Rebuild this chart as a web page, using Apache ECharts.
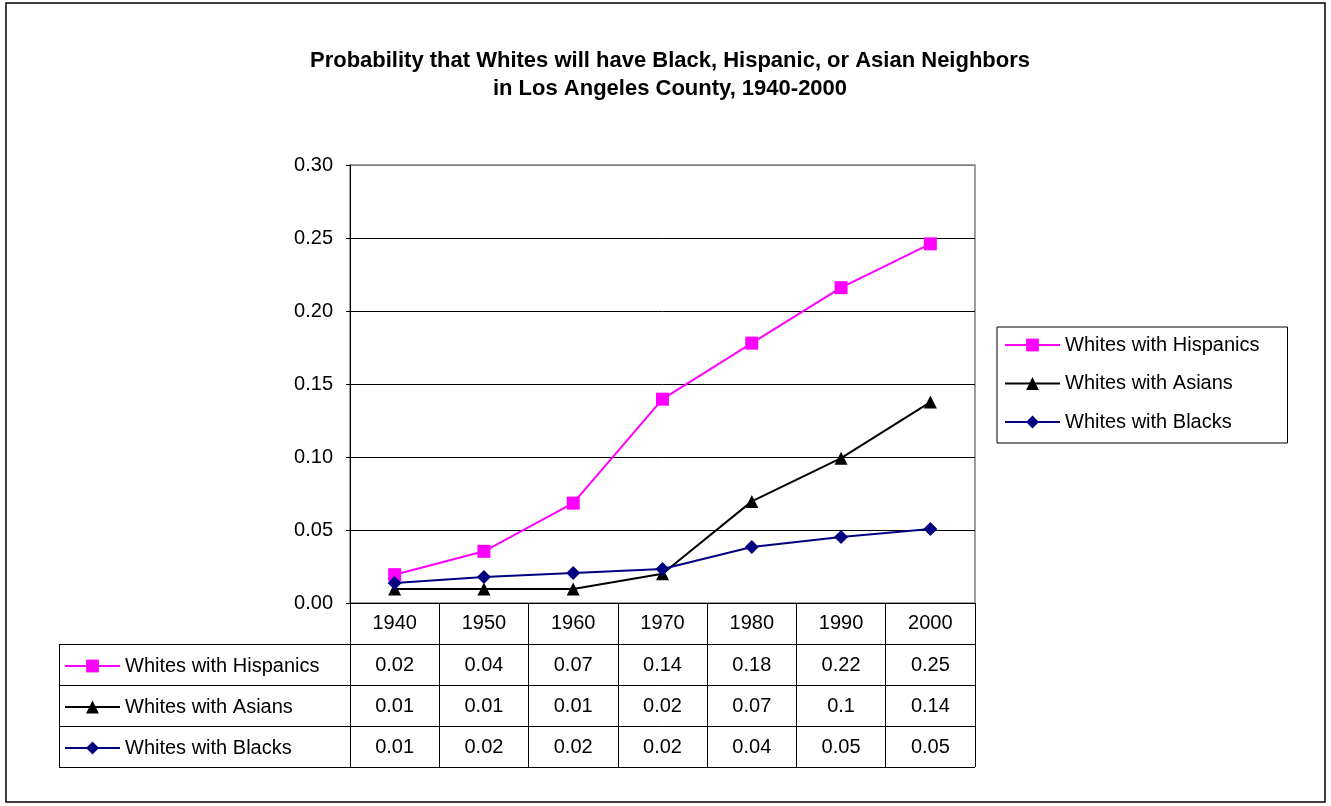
<!DOCTYPE html>
<html>
<head>
<meta charset="utf-8">
<script src="https://cdn.jsdelivr.net/npm/echarts@6/dist/echarts.min.js"></script>
<style>
html, body { margin: 0; padding: 0; background: #fff; }
#main { width: 1331px; height: 806px; }
</style>
</head>
<body>
<div id="main"></div>
<script>
var chartDom = document.getElementById('main');
var myChart = echarts.init(chartDom);

// data
const years = ['1940', '1950', '1960', '1970', '1980', '1990', '2000'];
const hispanics = [0.0194, 0.0354, 0.0684, 0.1396, 0.178, 0.216, 0.246];
const asians = [0.0096, 0.0096, 0.0096, 0.020, 0.0696, 0.0992, 0.1376];
const blacks = [0.0137, 0.0178, 0.0205, 0.0233, 0.0383, 0.0452, 0.0507];
const names = ['Whites with Hispanics', 'Whites with Asians', 'Whites with Blacks'];
const yMin = 0, yMax = 0.30, yStep = 0.05;

const font = 'Liberation Sans, Arial, sans-serif';
const rowH = 41;
const plotL = 350, plotR = 975, plotT = 165, plotB = 603;

// data table text, Excel "General" style of the rounded value
const fmt = (v) => String(Number(v.toFixed(2)));
const tableRows = [hispanics, asians, blacks].map(arr => arr.map(fmt));

const seriesDefs = [
    { name: names[0], data: hispanics, color: '#ff00ff', symbol: 'rect', size: 13 },
    { name: names[1], data: asians, color: '#000000', symbol: 'triangle', size: 13 },
    { name: names[2], data: blacks, color: '#000080', symbol: 'diamond', size: 14 }
];

const series = seriesDefs.map(s => ({
    name: s.name,
    type: 'line',
    xAxisIndex: 0,
    data: s.data,
    symbol: s.symbol,
    symbolSize: s.size,
    showAllSymbol: true,
    animation: false,
    itemStyle: { color: s.color },
    lineStyle: { color: s.color, width: 2 },
    emphasis: { disabled: true }
}));

// extra x axes make the rows of the data table
const tableAxes = tableRows.map((row, r) => ({
    type: 'category',
    gridIndex: 0,
    position: 'bottom',
    offset: rowH * (r + 1),
    data: years,
    axisLine: { show: true, lineStyle: { color: '#000', width: 1 } },
    axisTick: { show: true, length: rowH, interval: 0, lineStyle: { color: '#000' } },
    axisLabel: {
        interval: 0, margin: 11, color: '#000', fontSize: 20, fontFamily: font,
        formatter: (v, i) => row[i]
    },
    splitLine: { show: false }
}));

const legendText = { color: '#000', fontSize: 20, fontFamily: font, lineHeight: 24 };

var option = {
    backgroundColor: '#fff',
    animation: false,
    title: {
        text: 'Probability that Whites will have Black, Hispanic, or Asian Neighbors\nin Los Angeles County, 1940-2000',
        left: 665,
        top: 42,
        textAlign: 'center',
        textStyle: { fontSize: 22, fontWeight: 'bold', fontFamily: font, color: '#000', lineHeight: 28 }
    },
    legend: [
        {
            data: names,
            orient: 'vertical',
            left: 997,
            top: 327,
            itemWidth: 55,
            itemHeight: 16,
            itemGap: 14.5,
            padding: [6, 28, 9, 7],
            borderColor: '#000',
            borderWidth: 1,
            selectedMode: false,
            textStyle: legendText
        },
        {
            data: names,
            orient: 'vertical',
            left: 59,
            top: plotB + rowH,
            itemWidth: 55,
            itemHeight: 16,
            itemGap: rowH - 24,
            padding: [10, 5, 9, 5],
            selectedMode: false,
            textStyle: legendText
        }
    ],
    grid: {
        left: plotL,
        top: plotT,
        width: plotR - plotL,
        height: plotB - plotT,
        show: true,
        backgroundColor: '#fff',
        borderColor: '#808080',
        borderWidth: 1.5
    },
    xAxis: [
        {
            type: 'category',
            gridIndex: 0,
            position: 'bottom',
            data: years,
            boundaryGap: true,
            axisLine: { show: true, lineStyle: { color: '#000', width: 1 } },
            axisTick: { show: true, length: rowH, interval: 0, lineStyle: { color: '#000' } },
            axisLabel: { interval: 0, margin: 10, color: '#000', fontSize: 20, fontFamily: font },
            splitLine: { show: false }
        }
    ].concat(tableAxes),
    yAxis: {
        type: 'value',
        min: yMin,
        max: yMax,
        interval: yStep,
        axisLine: { show: true, lineStyle: { color: '#000', width: 1 } },
        axisTick: { show: true, length: 4, lineStyle: { color: '#000' } },
        axisLabel: {
            margin: 17, color: '#000', fontSize: 20, fontFamily: font,
            formatter: (v) => v.toFixed(2)
        },
        splitLine: {
            show: true,
            lineStyle: { color: ['#000', '#000', '#000', '#000', '#000', '#000', '#808080'], width: 1 }
        }
    },
    series: series
};

myChart.setOption(option);

// left column of the data table and the outer frame
const tl = 59, tTop = plotB + rowH, tBottom = plotB + rowH * 4;
const lines = [];
for (let r = 0; r <= 3; r++) {
    const y = tTop + rowH * r + 0.5;
    lines.push({ type: 'line', shape: { x1: tl, y1: y, x2: r === 3 ? plotR : plotL, y2: y }, style: { stroke: '#000', lineWidth: 1 } });
}
lines.push({ type: 'line', shape: { x1: tl + 0.5, y1: tTop, x2: tl + 0.5, y2: tBottom }, style: { stroke: '#000', lineWidth: 1 } });
lines.push({ type: 'rect', shape: { x: 6, y: 3, width: 1319, height: 799 }, style: { fill: null, stroke: '#000', lineWidth: 1.5 }, z: 100 });

myChart.setOption({ graphic: { elements: lines } });
</script>
</body>
</html>
